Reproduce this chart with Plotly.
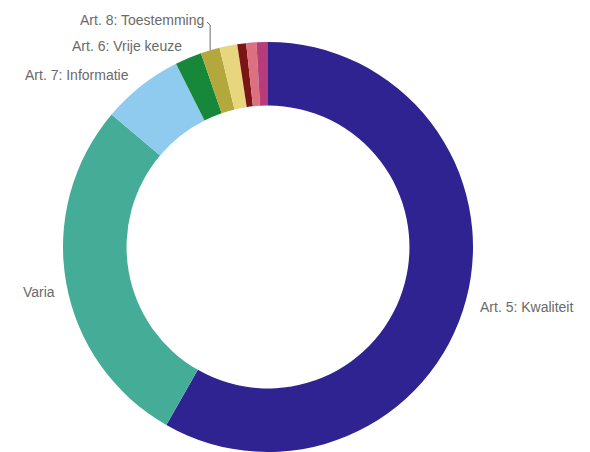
import math
import plotly.graph_objects as go

# Complaint categories, in clockwise order from 12 o'clock
labels = ["Art. 5: Kwaliteit", "Varia", "Art. 7: Informatie", "Art. 6: Vrije keuze",
          "Art. 8: Toestemming", "Overig 1", "Overig 2", "Overig 3", "Overig 4"]
values = [58.2, 27.9, 6.4, 2.1, 1.5, 1.4, 0.7, 0.8, 0.9]
colors = ["#2e2390", "#45ad97", "#8ecbee", "#17883a", "#b3a83c",
          "#e7d67e", "#7b1515", "#dd7080", "#b73c7c"]

W, H = 590, 452
CX, CY, R = 268, 247, 205  # pie centre and radius in pixels

fig = go.Figure(go.Pie(
    labels=labels,
    values=values,
    marker=dict(colors=colors, line=dict(width=0)),
    hole=0.69,
    sort=False,
    direction="clockwise",
    rotation=0,
    textinfo="none",
    hoverinfo="label+percent",
    domain=dict(x=[(CX - R) / W, (CX + R) / W], y=[(H - CY - R) / H, (H - CY + R) / H]),
))

def px(x, y):
    return x / W, 1 - y / H

font = dict(family="Liberation Sans", size=14, color="#6a6a6a")
placements = {
    "Art. 5: Kwaliteit": (478, 307, "left"),
    "Varia": (57, 292, "right"),
    "Art. 7: Informatie": (131, 75, "right"),
    "Art. 6: Vrije keuze": (184, 46, "right"),
    "Art. 8: Toestemming": (206, 20, "right"),
}
for name, (x, y, anchor) in placements.items():
    ax, ay = px(x, y)
    fig.add_annotation(x=ax, y=ay, xref="paper", yref="paper", text=name,
                       showarrow=False, xanchor=anchor, yanchor="middle", font=font)

# Leader line from the Toestemming label down to its slice
total = sum(values)
start = sum(values[:4]) / total * 360
mid = start + values[4] / total * 180
lx = CX + R * math.sin(math.radians(mid))
ly = CY - R * math.cos(math.radians(mid))
x0, y0 = px(lx, 25)
x1, y1 = px(lx, ly)
xs, ys = px(207, 22)
fig.add_shape(type="path", xref="paper", yref="paper",
              path=f"M {xs} {ys} L {x0} {y0} L {x1} {y1}",
              line=dict(color="#6a6a6a", width=1))

fig.update_layout(width=W, height=H, margin=dict(l=0, r=0, t=0, b=0),
                  showlegend=False, paper_bgcolor="white")
fig.write_html("out.html")
